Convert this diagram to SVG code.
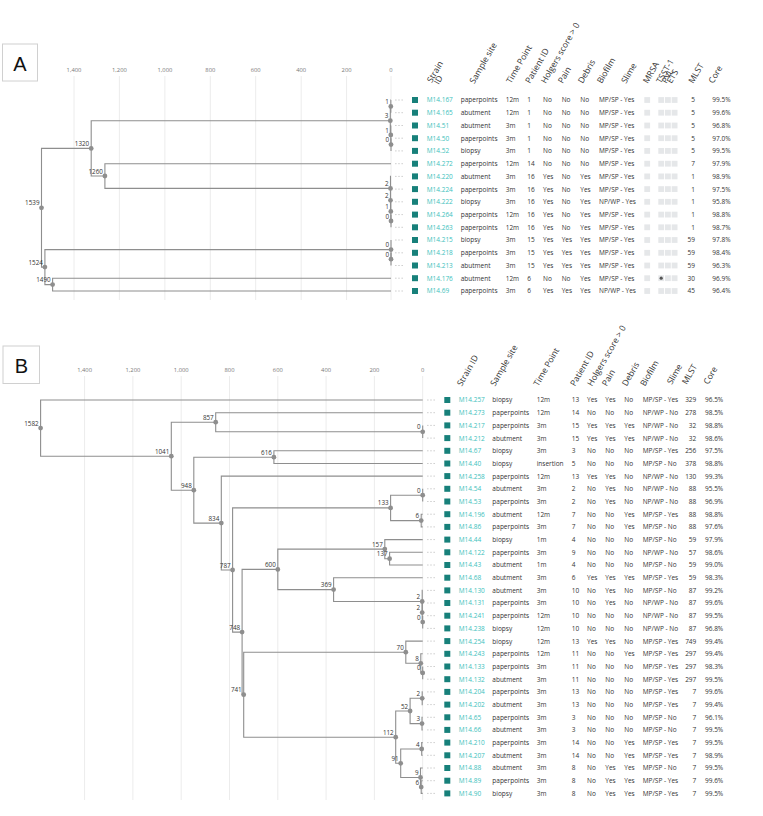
<svg xmlns="http://www.w3.org/2000/svg" xmlns:xlink="http://www.w3.org/1999/xlink" width="763" height="816" viewBox="0 0 763 816">
<style>
text{font-family:"Open Sans","Liberation Sans",sans-serif}
.t{font-size:6.5px;fill:#333}
.e{text-anchor:end}
.sid{fill:#3dbfbd}
.h{font-size:8.5px;fill:#333}
.ax{font-size:5.8px;fill:#777;text-anchor:middle}
.nl{font-size:6.3px;fill:#333;text-anchor:end}
.br{fill:none;stroke:#8e8e8e;stroke-width:1.1}
.grid{stroke:#ececec;stroke-width:1}
.dot{fill:#8e8e8e}
.sq{fill:#17807a}
.gs{fill:#e5e7e9}
.dash{stroke:#c4c4c4;stroke-width:0.8;stroke-dasharray:1.6 1.6}
.box{fill:#fff;stroke:#d0d0d0;stroke-width:1}
.lab{font-family:"Liberation Sans",Arial,sans-serif;font-size:20px;fill:#111;text-anchor:middle}
</style>
<defs>
<g id="flags"><rect class="gs" x="644.3" y="-2.9" width="5.8" height="5.8"/><rect class="gs" x="658.3" y="-2.9" width="5.8" height="5.8"/><rect class="gs" x="665" y="-2.9" width="5.8" height="5.8"/><rect class="gs" x="671.7" y="-2.9" width="5.8" height="5.8"/></g>
<g id="ma"><line class="dash" x1="395" y1="0" x2="404" y2="0"/><rect class="sq" x="412" y="-3" width="6" height="6"/></g>
<g id="mb"><line class="dash" x1="427" y1="0" x2="435.5" y2="0"/><rect class="sq" x="444.3" y="-3" width="6" height="6"/></g>
</defs>
<rect width="763" height="816" fill="#fff"/>

<!-- ===== Panel A ===== -->
<g id="panelA-frame">
<rect class="box" x="2.5" y="44" width="35" height="37"/>
<text class="lab" x="20" y="70.5">A</text>
<g id="gridA">
<line class="grid" x1="74" y1="76" x2="74" y2="300"/>
<line class="grid" x1="119.4" y1="76" x2="119.4" y2="300"/>
<line class="grid" x1="164.9" y1="76" x2="164.9" y2="300"/>
<line class="grid" x1="210.3" y1="76" x2="210.3" y2="300"/>
<line class="grid" x1="255.7" y1="76" x2="255.7" y2="300"/>
<line class="grid" x1="301.2" y1="76" x2="301.2" y2="300"/>
<line class="grid" x1="346.6" y1="76" x2="346.6" y2="300"/>
<line class="grid" x1="391" y1="76" x2="391" y2="300"/>
</g>
<g id="axisA">
<text class="ax" x="74" y="72">1,400</text>
<text class="ax" x="119.4" y="72">1,200</text>
<text class="ax" x="164.9" y="72">1,000</text>
<text class="ax" x="210.3" y="72">800</text>
<text class="ax" x="255.7" y="72">600</text>
<text class="ax" x="301.2" y="72">400</text>
<text class="ax" x="346.6" y="72">200</text>
<text class="ax" x="391" y="72">0</text>
</g>
<g id="headersA" class="h">
<text class="h" transform="translate(431.7,83.3) rotate(-60)"><tspan x="0" y="0">Strain</tspan><tspan x="2" y="7">ID</tspan></text>
<text class="h" transform="translate(474.3,84.3) rotate(-60)">Sample site</text>
<text class="h" transform="translate(511,84) rotate(-60)">Time Point</text>
<text class="h" transform="translate(530,84) rotate(-60)">Patient ID</text>
<text class="h" transform="translate(545.7,84) rotate(-60)">Holgers score &gt; 0</text>
<text class="h" transform="translate(562.7,84) rotate(-60)">Pain</text>
<text class="h" transform="translate(582.7,84) rotate(-60)">Debris</text>
<text class="h" transform="translate(601.7,84) rotate(-60)">Biofilm</text>
<text class="h" transform="translate(626,84) rotate(-60)">Slime</text>
<text class="h" transform="translate(647.7,84) rotate(-60)">MRSA</text>
<text class="h" transform="translate(661,84) rotate(-60)">TSST-1</text>
<text class="h" transform="translate(666.5,84) rotate(-60)">PVL</text>
<text class="h" transform="translate(671.5,84) rotate(-60)">ETS</text>
<text class="h" transform="translate(693.3,84) rotate(-60)">MLST</text>
<text class="h" transform="translate(713.3,84) rotate(-60)">Core</text>
</g>
</g>

<g id="connectorsA">
<path class="br" d="M91.2 148.4H41.5V267.1H44.9"/>
<path class="br" d="M390.3 120.7H91.2V176H104.9"/>
<path class="br" d="M391 163.7H104.9V188.4H390.5"/>
<path class="br" d="M391 176.4H390.5V200.3"/>
<path class="br" d="M391 189.1H390.5V211.4H390.8"/>
<path class="br" d="M391 201.8H390.8V221H391"/>
<path class="br" d="M391 214.6V227.3"/>
<path class="br" d="M390.8 106.4H390.3V135H390.8"/>
<path class="br" d="M391 100H390.8V112.7H391"/>
<path class="br" d="M391 125.5H390.8V144.6H391"/>
<path class="br" d="M391 138.2V150.9"/>
<path class="br" d="M391 249.6H44.9V284.6H52.6"/>
<path class="br" d="M391 240V259.2"/>
<path class="br" d="M391 252.8V265.5"/>
<path class="br" d="M391 278.2H52.6V291H391"/>
</g>

<g id="nodesA">
<g id="a-n1539"><circle class="dot" cx="41.5" cy="207.8" r="2.4"/><text class="nl" x="39.5" y="205.3">1539</text></g>
<g id="a-n1320"><circle class="dot" cx="91.2" cy="148.4" r="2.4"/><text class="nl" x="89.2" y="145.9">1320</text></g>
<g id="a-n1260"><circle class="dot" cx="104.9" cy="176" r="2.4"/><text class="nl" x="102.9" y="173.5">1260</text></g>
<g id="a-n1524"><circle class="dot" cx="44.9" cy="267.1" r="2.4"/><text class="nl" x="42.9" y="264.6">1524</text></g>
<g id="a-n1490"><circle class="dot" cx="52.6" cy="284.6" r="2.4"/><text class="nl" x="50.6" y="282.1">1490</text></g>
<g id="a-n3"><circle class="dot" cx="390.3" cy="120.7" r="2.4"/><text class="nl" x="388.3" y="118.2">3</text></g>
<g id="a-n1b"><circle class="dot" cx="390.8" cy="106.4" r="2.4"/><text class="nl" x="388.8" y="103.9">1</text></g>
<g id="a-n1"><circle class="dot" cx="390.8" cy="135" r="2.4"/><text class="nl" x="388.8" y="132.5">1</text></g>
<g id="a-n0"><circle class="dot" cx="391" cy="144.6" r="2.4"/><text class="nl" x="389" y="142.1">0</text></g>
<g id="a-n2a"><circle class="dot" cx="390.5" cy="188.4" r="2.4"/><text class="nl" x="388.5" y="185.9">2</text></g>
<g id="a-n2b"><circle class="dot" cx="390.5" cy="200.3" r="2.4"/><text class="nl" x="388.5" y="197.8">2</text></g>
<g id="a-n1c"><circle class="dot" cx="390.8" cy="211.4" r="2.4"/><text class="nl" x="388.8" y="208.9">1</text></g>
<g id="a-n0c"><circle class="dot" cx="391" cy="221" r="2.4"/><text class="nl" x="389" y="218.5">0</text></g>
<g id="a-m0b"><circle class="dot" cx="391" cy="249.6" r="2.4"/><text class="nl" x="389" y="247.1">0</text></g>
<g id="a-m0"><circle class="dot" cx="391" cy="259.2" r="2.4"/><text class="nl" x="389" y="256.7">0</text></g>
</g>

<g id="rowsA">
<g id="A-M14.167" transform="translate(0,100)"><use href="#ma"/><use href="#flags"/><text class="t" y="2.4"><tspan class="sid" x="426.7">M14.167</tspan><tspan x="460.7">paperpoints</tspan><tspan x="505.7">12m</tspan><tspan x="527.3">1</tspan><tspan x="543">No</tspan><tspan x="561.7">No</tspan><tspan x="580.3">No</tspan><tspan x="599">MP/SP - Yes</tspan><tspan x="712.3">99.5%</tspan></text><text class="t e" x="695" y="2.4">5</text></g>
<g id="A-M14.165" transform="translate(0,112.7)"><use href="#ma"/><use href="#flags"/><text class="t" y="2.4"><tspan class="sid" x="426.7">M14.165</tspan><tspan x="460.7">abutment</tspan><tspan x="505.7">12m</tspan><tspan x="527.3">1</tspan><tspan x="543">No</tspan><tspan x="561.7">No</tspan><tspan x="580.3">No</tspan><tspan x="599">MP/SP - Yes</tspan><tspan x="712.3">99.6%</tspan></text><text class="t e" x="695" y="2.4">5</text></g>
<g id="A-M14.51" transform="translate(0,125.5)"><use href="#ma"/><use href="#flags"/><text class="t" y="2.4"><tspan class="sid" x="426.7">M14.51</tspan><tspan x="460.7">abutment</tspan><tspan x="505.7">3m</tspan><tspan x="527.3">1</tspan><tspan x="543">No</tspan><tspan x="561.7">No</tspan><tspan x="580.3">No</tspan><tspan x="599">MP/SP - Yes</tspan><tspan x="712.3">96.8%</tspan></text><text class="t e" x="695" y="2.4">5</text></g>
<g id="A-M14.50" transform="translate(0,138.2)"><use href="#ma"/><use href="#flags"/><text class="t" y="2.4"><tspan class="sid" x="426.7">M14.50</tspan><tspan x="460.7">paperpoints</tspan><tspan x="505.7">3m</tspan><tspan x="527.3">1</tspan><tspan x="543">No</tspan><tspan x="561.7">No</tspan><tspan x="580.3">No</tspan><tspan x="599">MP/SP - Yes</tspan><tspan x="712.3">97.0%</tspan></text><text class="t e" x="695" y="2.4">5</text></g>
<g id="A-M14.52" transform="translate(0,150.9)"><use href="#ma"/><use href="#flags"/><text class="t" y="2.4"><tspan class="sid" x="426.7">M14.52</tspan><tspan x="460.7">biopsy</tspan><tspan x="505.7">3m</tspan><tspan x="527.3">1</tspan><tspan x="543">No</tspan><tspan x="561.7">No</tspan><tspan x="580.3">No</tspan><tspan x="599">MP/SP - Yes</tspan><tspan x="712.3">99.5%</tspan></text><text class="t e" x="695" y="2.4">5</text></g>
<g id="A-M14.272" transform="translate(0,163.7)"><use href="#ma"/><use href="#flags"/><text class="t" y="2.4"><tspan class="sid" x="426.7">M14.272</tspan><tspan x="460.7">paperpoints</tspan><tspan x="505.7">12m</tspan><tspan x="527.3">14</tspan><tspan x="543">No</tspan><tspan x="561.7">No</tspan><tspan x="580.3">No</tspan><tspan x="599">MP/SP - Yes</tspan><tspan x="712.3">97.9%</tspan></text><text class="t e" x="695" y="2.4">7</text></g>
<g id="A-M14.220" transform="translate(0,176.4)"><use href="#ma"/><use href="#flags"/><text class="t" y="2.4"><tspan class="sid" x="426.7">M14.220</tspan><tspan x="460.7">abutment</tspan><tspan x="505.7">3m</tspan><tspan x="527.3">16</tspan><tspan x="543">Yes</tspan><tspan x="561.7">No</tspan><tspan x="580.3">Yes</tspan><tspan x="599">MP/SP - Yes</tspan><tspan x="712.3">98.9%</tspan></text><text class="t e" x="695" y="2.4">1</text></g>
<g id="A-M14.224" transform="translate(0,189.1)"><use href="#ma"/><use href="#flags"/><text class="t" y="2.4"><tspan class="sid" x="426.7">M14.224</tspan><tspan x="460.7">paperpoints</tspan><tspan x="505.7">3m</tspan><tspan x="527.3">16</tspan><tspan x="543">Yes</tspan><tspan x="561.7">No</tspan><tspan x="580.3">Yes</tspan><tspan x="599">MP/SP - Yes</tspan><tspan x="712.3">97.5%</tspan></text><text class="t e" x="695" y="2.4">1</text></g>
<g id="A-M14.222" transform="translate(0,201.8)"><use href="#ma"/><use href="#flags"/><text class="t" y="2.4"><tspan class="sid" x="426.7">M14.222</tspan><tspan x="460.7">biopsy</tspan><tspan x="505.7">3m</tspan><tspan x="527.3">16</tspan><tspan x="543">Yes</tspan><tspan x="561.7">No</tspan><tspan x="580.3">Yes</tspan><tspan x="599">NP/WP - Yes</tspan><tspan x="712.3">95.8%</tspan></text><text class="t e" x="695" y="2.4">1</text></g>
<g id="A-M14.264" transform="translate(0,214.6)"><use href="#ma"/><use href="#flags"/><text class="t" y="2.4"><tspan class="sid" x="426.7">M14.264</tspan><tspan x="460.7">paperpoints</tspan><tspan x="505.7">12m</tspan><tspan x="527.3">16</tspan><tspan x="543">Yes</tspan><tspan x="561.7">No</tspan><tspan x="580.3">Yes</tspan><tspan x="599">MP/SP - Yes</tspan><tspan x="712.3">98.8%</tspan></text><text class="t e" x="695" y="2.4">1</text></g>
<g id="A-M14.263" transform="translate(0,227.3)"><use href="#ma"/><use href="#flags"/><text class="t" y="2.4"><tspan class="sid" x="426.7">M14.263</tspan><tspan x="460.7">paperpoints</tspan><tspan x="505.7">12m</tspan><tspan x="527.3">16</tspan><tspan x="543">Yes</tspan><tspan x="561.7">No</tspan><tspan x="580.3">Yes</tspan><tspan x="599">MP/SP - Yes</tspan><tspan x="712.3">98.7%</tspan></text><text class="t e" x="695" y="2.4">1</text></g>
<g id="A-M14.215" transform="translate(0,240)"><use href="#ma"/><use href="#flags"/><text class="t" y="2.4"><tspan class="sid" x="426.7">M14.215</tspan><tspan x="460.7">biopsy</tspan><tspan x="505.7">3m</tspan><tspan x="527.3">15</tspan><tspan x="543">Yes</tspan><tspan x="561.7">Yes</tspan><tspan x="580.3">Yes</tspan><tspan x="599">MP/SP - Yes</tspan><tspan x="712.3">97.8%</tspan></text><text class="t e" x="695" y="2.4">59</text></g>
<g id="A-M14.218" transform="translate(0,252.8)"><use href="#ma"/><use href="#flags"/><text class="t" y="2.4"><tspan class="sid" x="426.7">M14.218</tspan><tspan x="460.7">paperpoints</tspan><tspan x="505.7">3m</tspan><tspan x="527.3">15</tspan><tspan x="543">Yes</tspan><tspan x="561.7">Yes</tspan><tspan x="580.3">Yes</tspan><tspan x="599">MP/SP - Yes</tspan><tspan x="712.3">98.4%</tspan></text><text class="t e" x="695" y="2.4">59</text></g>
<g id="A-M14.213" transform="translate(0,265.5)"><use href="#ma"/><use href="#flags"/><text class="t" y="2.4"><tspan class="sid" x="426.7">M14.213</tspan><tspan x="460.7">abutment</tspan><tspan x="505.7">3m</tspan><tspan x="527.3">15</tspan><tspan x="543">Yes</tspan><tspan x="561.7">Yes</tspan><tspan x="580.3">Yes</tspan><tspan x="599">MP/SP - Yes</tspan><tspan x="712.3">96.3%</tspan></text><text class="t e" x="695" y="2.4">59</text></g>
<g id="A-M14.176" transform="translate(0,278.2)"><use href="#ma"/><use href="#flags"/><circle cx="661.2" cy="0" r="1.6" fill="#555"/><text class="t" y="2.4"><tspan class="sid" x="426.7">M14.176</tspan><tspan x="460.7">abutment</tspan><tspan x="505.7">12m</tspan><tspan x="527.3">6</tspan><tspan x="543">No</tspan><tspan x="561.7">No</tspan><tspan x="580.3">Yes</tspan><tspan x="599">MP/SP - Yes</tspan><tspan x="712.3">96.9%</tspan></text><text class="t e" x="695" y="2.4">30</text></g>
<g id="A-M14.69" transform="translate(0,291)"><use href="#ma"/><use href="#flags"/><text class="t" y="2.4"><tspan class="sid" x="426.7">M14.69</tspan><tspan x="460.7">paperpoints</tspan><tspan x="505.7">3m</tspan><tspan x="527.3">6</tspan><tspan x="543">Yes</tspan><tspan x="561.7">Yes</tspan><tspan x="580.3">Yes</tspan><tspan x="599">NP/WP - Yes</tspan><tspan x="712.3">96.4%</tspan></text><text class="t e" x="695" y="2.4">45</text></g>
</g>

<!-- ===== Panel B ===== -->
<g id="panelB-frame">
<rect class="box" x="3" y="346" width="36.5" height="37.5"/>
<text class="lab" x="21.3" y="373.2">B</text>
<g id="gridB">
<line class="grid" x1="84.6" y1="376" x2="84.6" y2="800"/>
<line class="grid" x1="132.9" y1="376" x2="132.9" y2="800"/>
<line class="grid" x1="181.2" y1="376" x2="181.2" y2="800"/>
<line class="grid" x1="229.5" y1="376" x2="229.5" y2="800"/>
<line class="grid" x1="277.8" y1="376" x2="277.8" y2="800"/>
<line class="grid" x1="326.1" y1="376" x2="326.1" y2="800"/>
<line class="grid" x1="374.4" y1="376" x2="374.4" y2="800"/>
<line class="grid" x1="422.7" y1="376" x2="422.7" y2="800"/>
</g>
<g id="axisB">
<text class="ax" x="84.6" y="372">1,400</text>
<text class="ax" x="132.9" y="372">1,200</text>
<text class="ax" x="181.2" y="372">1,000</text>
<text class="ax" x="229.5" y="372">800</text>
<text class="ax" x="277.8" y="372">600</text>
<text class="ax" x="326.1" y="372">400</text>
<text class="ax" x="374.4" y="372">200</text>
<text class="ax" x="422.7" y="372">0</text>
</g>
<g id="headersB">
<text class="h" transform="translate(461.7,386.7) rotate(-60)">Strain ID</text>
<text class="h" transform="translate(495,386.7) rotate(-60)">Sample site</text>
<text class="h" transform="translate(538.3,386.7) rotate(-60)">Time Point</text>
<text class="h" transform="translate(575,386.7) rotate(-60)">Patient ID</text>
<text class="h" transform="translate(592,386.7) rotate(-60)">Holgers score &gt; 0</text>
<text class="h" transform="translate(606.7,386.7) rotate(-60)">Pain</text>
<text class="h" transform="translate(626.7,386.7) rotate(-60)">Debris</text>
<text class="h" transform="translate(645,386.7) rotate(-60)">Biofilm</text>
<text class="h" transform="translate(671.7,385) rotate(-60)">Slime</text>
<text class="h" transform="translate(686.7,385) rotate(-60)">MLST</text>
<text class="h" transform="translate(708.3,385) rotate(-60)">Core</text>
</g>
</g>

<g id="connectorsB">
<path class="br" d="M422.7 400H40.6V456.2H171.3"/>
<path class="br" d="M215.7 422.2H171.3V490.2H193.8"/>
<path class="br" d="M422.7 412.7H215.7V431.8H422.7"/>
<path class="br" d="M422.7 425.4V438.1"/>
<path class="br" d="M273.9 457.2H193.8V523.1H221.3"/>
<path class="br" d="M422.7 450.8H273.9V463.5H422.7"/>
<path class="br" d="M422.7 476.1H221.3V570H232.6"/>
<path class="br" d="M390.6 507.9H232.6V632.1H242.1"/>
<path class="br" d="M422.7 495.2H390.6V520.6H421.2"/>
<path class="br" d="M422.7 488.8V501.5"/>
<path class="br" d="M422.7 514.2H421.2V526.9H422.7"/>
<path class="br" d="M277.8 569.4H242.1V694.7H243.7"/>
<path class="br" d="M384.8 549.1H277.8V589.6H333.6"/>
<path class="br" d="M422.7 539.6H384.8V558.7H389.6"/>
<path class="br" d="M422.7 552.3H389.6V565H422.7"/>
<path class="br" d="M422.7 577.7H333.6V601.5H422.2"/>
<path class="br" d="M422.7 590.4H422.2V612.6"/>
<path class="br" d="M422.7 603H422.2V622.1H422.7"/>
<path class="br" d="M422.7 615.7V628.4"/>
<path class="br" d="M405.8 652.2H243.7V737.2H395.7"/>
<path class="br" d="M422.7 641.1H405.8V663.3H420.8"/>
<path class="br" d="M422.7 653.8H420.8V672.9H422.7"/>
<path class="br" d="M422.7 666.5V679.2"/>
<path class="br" d="M410.1 711H395.7V763.3H400.7"/>
<path class="br" d="M422.2 698.3H410.1V723.6H422"/>
<path class="br" d="M422.7 691.9H422.2V704.6H422.7"/>
<path class="br" d="M422.7 717.3H422V729.9H422.7"/>
<path class="br" d="M421.7 749H400.7V777.5H420.5"/>
<path class="br" d="M422.7 742.6H421.7V755.3H422.7"/>
<path class="br" d="M422.7 768H420.5V787.1H421.2"/>
<path class="br" d="M422.7 780.7H421.2V793.4H422.7"/>
</g>

<g id="nodesB">
<g id="b-n1582"><circle class="dot" cx="40.6" cy="428.1" r="2.4"/><text class="nl" x="38.6" y="425.6">1582</text></g>
<g id="b-n1041"><circle class="dot" cx="171.3" cy="456.2" r="2.4"/><text class="nl" x="169.3" y="453.7">1041</text></g>
<g id="b-n857"><circle class="dot" cx="215.7" cy="422.2" r="2.4"/><text class="nl" x="213.7" y="419.7">857</text></g>
<g id="b-n0a"><circle class="dot" cx="422.7" cy="431.8" r="2.4"/><text class="nl" x="420.7" y="429.3">0</text></g>
<g id="b-n948"><circle class="dot" cx="193.8" cy="490.2" r="2.4"/><text class="nl" x="191.8" y="487.7">948</text></g>
<g id="b-n616"><circle class="dot" cx="273.9" cy="457.2" r="2.4"/><text class="nl" x="271.9" y="454.7">616</text></g>
<g id="b-n834"><circle class="dot" cx="221.3" cy="523.1" r="2.4"/><text class="nl" x="219.3" y="520.6">834</text></g>
<g id="b-n787"><circle class="dot" cx="232.6" cy="570" r="2.4"/><text class="nl" x="230.6" y="567.5">787</text></g>
<g id="b-n133"><circle class="dot" cx="390.6" cy="507.9" r="2.4"/><text class="nl" x="388.6" y="505.4">133</text></g>
<g id="b-n0b"><circle class="dot" cx="422.7" cy="495.2" r="2.4"/><text class="nl" x="420.7" y="492.7">0</text></g>
<g id="b-n6a"><circle class="dot" cx="421.2" cy="520.6" r="2.4"/><text class="nl" x="419.2" y="518.1">6</text></g>
<g id="b-n748"><circle class="dot" cx="242.1" cy="632.1" r="2.4"/><text class="nl" x="240.1" y="629.6">748</text></g>
<g id="b-n600"><circle class="dot" cx="277.8" cy="569.4" r="2.4"/><text class="nl" x="275.8" y="566.9">600</text></g>
<g id="b-n157"><circle class="dot" cx="384.8" cy="549.1" r="2.4"/><text class="nl" x="382.8" y="546.6">157</text></g>
<g id="b-n137"><circle class="dot" cx="389.6" cy="558.7" r="2.4"/><text class="nl" x="387.6" y="556.2">137</text></g>
<g id="b-n369"><circle class="dot" cx="333.6" cy="589.6" r="2.4"/><text class="nl" x="331.6" y="587.1">369</text></g>
<g id="b-n2a"><circle class="dot" cx="422.2" cy="601.5" r="2.4"/><text class="nl" x="420.2" y="599">2</text></g>
<g id="b-n2b"><circle class="dot" cx="422.2" cy="612.6" r="2.4"/><text class="nl" x="420.2" y="610.1">2</text></g>
<g id="b-n0c"><circle class="dot" cx="422.7" cy="622.1" r="2.4"/><text class="nl" x="420.7" y="619.6">0</text></g>
<g id="b-n741"><circle class="dot" cx="243.7" cy="694.7" r="2.4"/><text class="nl" x="241.7" y="692.2">741</text></g>
<g id="b-n70"><circle class="dot" cx="405.8" cy="652.2" r="2.4"/><text class="nl" x="403.8" y="649.7">70</text></g>
<g id="b-n8"><circle class="dot" cx="420.8" cy="663.3" r="2.4"/><text class="nl" x="418.8" y="660.8">8</text></g>
<g id="b-n0d"><circle class="dot" cx="422.7" cy="672.9" r="2.4"/><text class="nl" x="420.7" y="670.4">0</text></g>
<g id="b-n112"><circle class="dot" cx="395.7" cy="737.2" r="2.4"/><text class="nl" x="393.7" y="734.7">112</text></g>
<g id="b-n52"><circle class="dot" cx="410.1" cy="711" r="2.4"/><text class="nl" x="408.1" y="708.5">52</text></g>
<g id="b-n2c"><circle class="dot" cx="422.2" cy="698.3" r="2.4"/><text class="nl" x="420.2" y="695.8">2</text></g>
<g id="b-n3"><circle class="dot" cx="422" cy="723.6" r="2.4"/><text class="nl" x="420" y="721.1">3</text></g>
<g id="b-n91"><circle class="dot" cx="400.7" cy="763.3" r="2.4"/><text class="nl" x="398.7" y="760.8">91</text></g>
<g id="b-n4"><circle class="dot" cx="421.7" cy="749" r="2.4"/><text class="nl" x="419.7" y="746.5">4</text></g>
<g id="b-n9"><circle class="dot" cx="420.5" cy="777.5" r="2.4"/><text class="nl" x="418.5" y="775">9</text></g>
<g id="b-n6b"><circle class="dot" cx="421.2" cy="787.1" r="2.4"/><text class="nl" x="419.2" y="784.6">6</text></g>
</g>

<g id="rowsB">
<g id="B-M14.257" transform="translate(0,400)"><use href="#mb"/><text class="t" y="2.4"><tspan class="sid" x="458.7">M14.257</tspan><tspan x="492.3">biopsy</tspan><tspan x="536.7">12m</tspan><tspan x="571.7">13</tspan><tspan x="587">Yes</tspan><tspan x="605.3">Yes</tspan><tspan x="624.3">No</tspan><tspan x="642.7">MP/SP - Yes</tspan><tspan x="705">96.5%</tspan></text><text class="t e" x="696.3" y="2.4">329</text></g>
<g id="B-M14.273" transform="translate(0,412.7)"><use href="#mb"/><text class="t" y="2.4"><tspan class="sid" x="458.7">M14.273</tspan><tspan x="492.3">paperpoints</tspan><tspan x="536.7">12m</tspan><tspan x="571.7">14</tspan><tspan x="587">No</tspan><tspan x="605.3">No</tspan><tspan x="624.3">No</tspan><tspan x="642.7">NP/WP - No</tspan><tspan x="705">98.5%</tspan></text><text class="t e" x="696.3" y="2.4">278</text></g>
<g id="B-M14.217" transform="translate(0,425.4)"><use href="#mb"/><text class="t" y="2.4"><tspan class="sid" x="458.7">M14.217</tspan><tspan x="492.3">paperpoints</tspan><tspan x="536.7">3m</tspan><tspan x="571.7">15</tspan><tspan x="587">Yes</tspan><tspan x="605.3">Yes</tspan><tspan x="624.3">Yes</tspan><tspan x="642.7">NP/WP - No</tspan><tspan x="705">98.8%</tspan></text><text class="t e" x="696.3" y="2.4">32</text></g>
<g id="B-M14.212" transform="translate(0,438.1)"><use href="#mb"/><text class="t" y="2.4"><tspan class="sid" x="458.7">M14.212</tspan><tspan x="492.3">abutment</tspan><tspan x="536.7">3m</tspan><tspan x="571.7">15</tspan><tspan x="587">Yes</tspan><tspan x="605.3">Yes</tspan><tspan x="624.3">Yes</tspan><tspan x="642.7">NP/WP - No</tspan><tspan x="705">98.6%</tspan></text><text class="t e" x="696.3" y="2.4">32</text></g>
<g id="B-M14.67" transform="translate(0,450.8)"><use href="#mb"/><text class="t" y="2.4"><tspan class="sid" x="458.7">M14.67</tspan><tspan x="492.3">biopsy</tspan><tspan x="536.7">3m</tspan><tspan x="571.7">3</tspan><tspan x="587">No</tspan><tspan x="605.3">No</tspan><tspan x="624.3">No</tspan><tspan x="642.7">MP/SP - Yes</tspan><tspan x="705">97.5%</tspan></text><text class="t e" x="696.3" y="2.4">256</text></g>
<g id="B-M14.40" transform="translate(0,463.5)"><use href="#mb"/><text class="t" y="2.4"><tspan class="sid" x="458.7">M14.40</tspan><tspan x="492.3">biopsy</tspan><tspan x="536.7">insertion</tspan><tspan x="571.7">5</tspan><tspan x="587">No</tspan><tspan x="605.3">No</tspan><tspan x="624.3">No</tspan><tspan x="642.7">MP/SP - No</tspan><tspan x="705">98.8%</tspan></text><text class="t e" x="696.3" y="2.4">378</text></g>
<g id="B-M14.258" transform="translate(0,476.1)"><use href="#mb"/><text class="t" y="2.4"><tspan class="sid" x="458.7">M14.258</tspan><tspan x="492.3">paperpoints</tspan><tspan x="536.7">12m</tspan><tspan x="571.7">13</tspan><tspan x="587">Yes</tspan><tspan x="605.3">Yes</tspan><tspan x="624.3">No</tspan><tspan x="642.7">NP/WP - No</tspan><tspan x="705">99.3%</tspan></text><text class="t e" x="696.3" y="2.4">130</text></g>
<g id="B-M14.54" transform="translate(0,488.8)"><use href="#mb"/><text class="t" y="2.4"><tspan class="sid" x="458.7">M14.54</tspan><tspan x="492.3">abutment</tspan><tspan x="536.7">3m</tspan><tspan x="571.7">2</tspan><tspan x="587">No</tspan><tspan x="605.3">Yes</tspan><tspan x="624.3">No</tspan><tspan x="642.7">NP/WP - No</tspan><tspan x="705">95.5%</tspan></text><text class="t e" x="696.3" y="2.4">88</text></g>
<g id="B-M14.53" transform="translate(0,501.5)"><use href="#mb"/><text class="t" y="2.4"><tspan class="sid" x="458.7">M14.53</tspan><tspan x="492.3">paperpoints</tspan><tspan x="536.7">3m</tspan><tspan x="571.7">2</tspan><tspan x="587">No</tspan><tspan x="605.3">Yes</tspan><tspan x="624.3">No</tspan><tspan x="642.7">NP/WP - No</tspan><tspan x="705">96.9%</tspan></text><text class="t e" x="696.3" y="2.4">88</text></g>
<g id="B-M14.196" transform="translate(0,514.2)"><use href="#mb"/><text class="t" y="2.4"><tspan class="sid" x="458.7">M14.196</tspan><tspan x="492.3">abutment</tspan><tspan x="536.7">12m</tspan><tspan x="571.7">7</tspan><tspan x="587">No</tspan><tspan x="605.3">No</tspan><tspan x="624.3">Yes</tspan><tspan x="642.7">MP/SP - Yes</tspan><tspan x="705">98.8%</tspan></text><text class="t e" x="696.3" y="2.4">88</text></g>
<g id="B-M14.86" transform="translate(0,526.9)"><use href="#mb"/><text class="t" y="2.4"><tspan class="sid" x="458.7">M14.86</tspan><tspan x="492.3">paperpoints</tspan><tspan x="536.7">3m</tspan><tspan x="571.7">7</tspan><tspan x="587">No</tspan><tspan x="605.3">No</tspan><tspan x="624.3">Yes</tspan><tspan x="642.7">MP/SP - No</tspan><tspan x="705">97.6%</tspan></text><text class="t e" x="696.3" y="2.4">88</text></g>
<g id="B-M14.44" transform="translate(0,539.6)"><use href="#mb"/><text class="t" y="2.4"><tspan class="sid" x="458.7">M14.44</tspan><tspan x="492.3">biopsy</tspan><tspan x="536.7">1m</tspan><tspan x="571.7">4</tspan><tspan x="587">No</tspan><tspan x="605.3">No</tspan><tspan x="624.3">No</tspan><tspan x="642.7">MP/SP - No</tspan><tspan x="705">97.9%</tspan></text><text class="t e" x="696.3" y="2.4">59</text></g>
<g id="B-M14.122" transform="translate(0,552.3)"><use href="#mb"/><text class="t" y="2.4"><tspan class="sid" x="458.7">M14.122</tspan><tspan x="492.3">paperpoints</tspan><tspan x="536.7">3m</tspan><tspan x="571.7">9</tspan><tspan x="587">No</tspan><tspan x="605.3">No</tspan><tspan x="624.3">No</tspan><tspan x="642.7">NP/WP - No</tspan><tspan x="705">98.6%</tspan></text><text class="t e" x="696.3" y="2.4">57</text></g>
<g id="B-M14.43" transform="translate(0,565)"><use href="#mb"/><text class="t" y="2.4"><tspan class="sid" x="458.7">M14.43</tspan><tspan x="492.3">abutment</tspan><tspan x="536.7">1m</tspan><tspan x="571.7">4</tspan><tspan x="587">No</tspan><tspan x="605.3">No</tspan><tspan x="624.3">No</tspan><tspan x="642.7">MP/SP - No</tspan><tspan x="705">99.0%</tspan></text><text class="t e" x="696.3" y="2.4">59</text></g>
<g id="B-M14.68" transform="translate(0,577.7)"><use href="#mb"/><text class="t" y="2.4"><tspan class="sid" x="458.7">M14.68</tspan><tspan x="492.3">abutment</tspan><tspan x="536.7">3m</tspan><tspan x="571.7">6</tspan><tspan x="587">Yes</tspan><tspan x="605.3">Yes</tspan><tspan x="624.3">Yes</tspan><tspan x="642.7">MP/SP - Yes</tspan><tspan x="705">98.3%</tspan></text><text class="t e" x="696.3" y="2.4">59</text></g>
<g id="B-M14.130" transform="translate(0,590.4)"><use href="#mb"/><text class="t" y="2.4"><tspan class="sid" x="458.7">M14.130</tspan><tspan x="492.3">abutment</tspan><tspan x="536.7">3m</tspan><tspan x="571.7">10</tspan><tspan x="587">No</tspan><tspan x="605.3">Yes</tspan><tspan x="624.3">No</tspan><tspan x="642.7">MP/SP - No</tspan><tspan x="705">99.2%</tspan></text><text class="t e" x="696.3" y="2.4">87</text></g>
<g id="B-M14.131" transform="translate(0,603)"><use href="#mb"/><text class="t" y="2.4"><tspan class="sid" x="458.7">M14.131</tspan><tspan x="492.3">paperpoints</tspan><tspan x="536.7">3m</tspan><tspan x="571.7">10</tspan><tspan x="587">No</tspan><tspan x="605.3">Yes</tspan><tspan x="624.3">No</tspan><tspan x="642.7">NP/WP - No</tspan><tspan x="705">99.6%</tspan></text><text class="t e" x="696.3" y="2.4">87</text></g>
<g id="B-M14.241" transform="translate(0,615.7)"><use href="#mb"/><text class="t" y="2.4"><tspan class="sid" x="458.7">M14.241</tspan><tspan x="492.3">paperpoints</tspan><tspan x="536.7">12m</tspan><tspan x="571.7">10</tspan><tspan x="587">No</tspan><tspan x="605.3">No</tspan><tspan x="624.3">No</tspan><tspan x="642.7">NP/WP - No</tspan><tspan x="705">99.5%</tspan></text><text class="t e" x="696.3" y="2.4">87</text></g>
<g id="B-M14.238" transform="translate(0,628.4)"><use href="#mb"/><text class="t" y="2.4"><tspan class="sid" x="458.7">M14.238</tspan><tspan x="492.3">biopsy</tspan><tspan x="536.7">12m</tspan><tspan x="571.7">10</tspan><tspan x="587">No</tspan><tspan x="605.3">No</tspan><tspan x="624.3">No</tspan><tspan x="642.7">NP/WP - No</tspan><tspan x="705">96.8%</tspan></text><text class="t e" x="696.3" y="2.4">87</text></g>
<g id="B-M14.254" transform="translate(0,641.1)"><use href="#mb"/><text class="t" y="2.4"><tspan class="sid" x="458.7">M14.254</tspan><tspan x="492.3">biopsy</tspan><tspan x="536.7">12m</tspan><tspan x="571.7">13</tspan><tspan x="587">Yes</tspan><tspan x="605.3">Yes</tspan><tspan x="624.3">No</tspan><tspan x="642.7">MP/SP - Yes</tspan><tspan x="705">99.4%</tspan></text><text class="t e" x="696.3" y="2.4">749</text></g>
<g id="B-M14.243" transform="translate(0,653.8)"><use href="#mb"/><text class="t" y="2.4"><tspan class="sid" x="458.7">M14.243</tspan><tspan x="492.3">paperpoints</tspan><tspan x="536.7">12m</tspan><tspan x="571.7">11</tspan><tspan x="587">No</tspan><tspan x="605.3">No</tspan><tspan x="624.3">Yes</tspan><tspan x="642.7">MP/SP - Yes</tspan><tspan x="705">99.4%</tspan></text><text class="t e" x="696.3" y="2.4">297</text></g>
<g id="B-M14.133" transform="translate(0,666.5)"><use href="#mb"/><text class="t" y="2.4"><tspan class="sid" x="458.7">M14.133</tspan><tspan x="492.3">paperpoints</tspan><tspan x="536.7">3m</tspan><tspan x="571.7">11</tspan><tspan x="587">No</tspan><tspan x="605.3">No</tspan><tspan x="624.3">No</tspan><tspan x="642.7">MP/SP - Yes</tspan><tspan x="705">98.3%</tspan></text><text class="t e" x="696.3" y="2.4">297</text></g>
<g id="B-M14.132" transform="translate(0,679.2)"><use href="#mb"/><text class="t" y="2.4"><tspan class="sid" x="458.7">M14.132</tspan><tspan x="492.3">abutment</tspan><tspan x="536.7">3m</tspan><tspan x="571.7">11</tspan><tspan x="587">No</tspan><tspan x="605.3">No</tspan><tspan x="624.3">No</tspan><tspan x="642.7">MP/SP - Yes</tspan><tspan x="705">99.5%</tspan></text><text class="t e" x="696.3" y="2.4">297</text></g>
<g id="B-M14.204" transform="translate(0,691.9)"><use href="#mb"/><text class="t" y="2.4"><tspan class="sid" x="458.7">M14.204</tspan><tspan x="492.3">paperpoints</tspan><tspan x="536.7">3m</tspan><tspan x="571.7">13</tspan><tspan x="587">No</tspan><tspan x="605.3">No</tspan><tspan x="624.3">No</tspan><tspan x="642.7">MP/SP - Yes</tspan><tspan x="705">99.6%</tspan></text><text class="t e" x="696.3" y="2.4">7</text></g>
<g id="B-M14.202" transform="translate(0,704.6)"><use href="#mb"/><text class="t" y="2.4"><tspan class="sid" x="458.7">M14.202</tspan><tspan x="492.3">abutment</tspan><tspan x="536.7">3m</tspan><tspan x="571.7">13</tspan><tspan x="587">No</tspan><tspan x="605.3">No</tspan><tspan x="624.3">No</tspan><tspan x="642.7">MP/SP - Yes</tspan><tspan x="705">99.4%</tspan></text><text class="t e" x="696.3" y="2.4">7</text></g>
<g id="B-M14.65" transform="translate(0,717.3)"><use href="#mb"/><text class="t" y="2.4"><tspan class="sid" x="458.7">M14.65</tspan><tspan x="492.3">paperpoints</tspan><tspan x="536.7">3m</tspan><tspan x="571.7">3</tspan><tspan x="587">No</tspan><tspan x="605.3">No</tspan><tspan x="624.3">No</tspan><tspan x="642.7">MP/SP - No</tspan><tspan x="705">96.1%</tspan></text><text class="t e" x="696.3" y="2.4">7</text></g>
<g id="B-M14.66" transform="translate(0,729.9)"><use href="#mb"/><text class="t" y="2.4"><tspan class="sid" x="458.7">M14.66</tspan><tspan x="492.3">abutment</tspan><tspan x="536.7">3m</tspan><tspan x="571.7">3</tspan><tspan x="587">No</tspan><tspan x="605.3">No</tspan><tspan x="624.3">No</tspan><tspan x="642.7">MP/SP - No</tspan><tspan x="705">99.5%</tspan></text><text class="t e" x="696.3" y="2.4">7</text></g>
<g id="B-M14.210" transform="translate(0,742.6)"><use href="#mb"/><text class="t" y="2.4"><tspan class="sid" x="458.7">M14.210</tspan><tspan x="492.3">paperpoints</tspan><tspan x="536.7">3m</tspan><tspan x="571.7">14</tspan><tspan x="587">No</tspan><tspan x="605.3">No</tspan><tspan x="624.3">Yes</tspan><tspan x="642.7">MP/SP - Yes</tspan><tspan x="705">99.5%</tspan></text><text class="t e" x="696.3" y="2.4">7</text></g>
<g id="B-M14.207" transform="translate(0,755.3)"><use href="#mb"/><text class="t" y="2.4"><tspan class="sid" x="458.7">M14.207</tspan><tspan x="492.3">abutment</tspan><tspan x="536.7">3m</tspan><tspan x="571.7">14</tspan><tspan x="587">No</tspan><tspan x="605.3">No</tspan><tspan x="624.3">Yes</tspan><tspan x="642.7">MP/SP - Yes</tspan><tspan x="705">98.9%</tspan></text><text class="t e" x="696.3" y="2.4">7</text></g>
<g id="B-M14.88" transform="translate(0,768)"><use href="#mb"/><text class="t" y="2.4"><tspan class="sid" x="458.7">M14.88</tspan><tspan x="492.3">abutment</tspan><tspan x="536.7">3m</tspan><tspan x="571.7">8</tspan><tspan x="587">No</tspan><tspan x="605.3">Yes</tspan><tspan x="624.3">Yes</tspan><tspan x="642.7">MP/SP - No</tspan><tspan x="705">99.5%</tspan></text><text class="t e" x="696.3" y="2.4">7</text></g>
<g id="B-M14.89" transform="translate(0,780.7)"><use href="#mb"/><text class="t" y="2.4"><tspan class="sid" x="458.7">M14.89</tspan><tspan x="492.3">paperpoints</tspan><tspan x="536.7">3m</tspan><tspan x="571.7">8</tspan><tspan x="587">No</tspan><tspan x="605.3">Yes</tspan><tspan x="624.3">Yes</tspan><tspan x="642.7">MP/SP - Yes</tspan><tspan x="705">99.6%</tspan></text><text class="t e" x="696.3" y="2.4">7</text></g>
<g id="B-M14.90" transform="translate(0,793.4)"><use href="#mb"/><text class="t" y="2.4"><tspan class="sid" x="458.7">M14.90</tspan><tspan x="492.3">biopsy</tspan><tspan x="536.7">3m</tspan><tspan x="571.7">8</tspan><tspan x="587">No</tspan><tspan x="605.3">Yes</tspan><tspan x="624.3">Yes</tspan><tspan x="642.7">MP/SP - Yes</tspan><tspan x="705">99.5%</tspan></text><text class="t e" x="696.3" y="2.4">7</text></g>
</g>
</svg>
